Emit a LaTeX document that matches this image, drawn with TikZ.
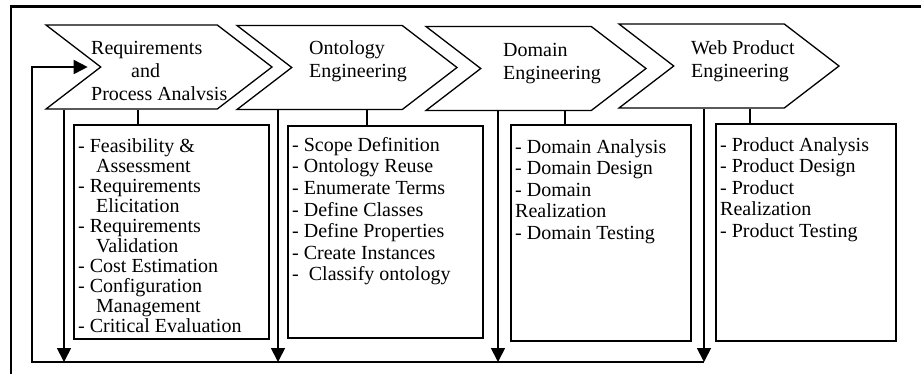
\documentclass[tikz,border=0pt]{standalone}
\usepackage{fontspec}
\setmainfont{Liberation Serif}
\usetikzlibrary{shapes.symbols,arrows.meta,calc}

\begin{document}
\begin{tikzpicture}[x=1pt,y=-1pt]

\tikzstyle{phase}=[signal,draw,line width=1.3pt,signal from=west,signal to=east,signal pointer angle=75,minimum width=220pt,minimum height=84pt,inner sep=0pt]
\tikzstyle{phase text}=[anchor=north west,inner sep=0pt,align=left,font={\fontsize{20}{23}\selectfont}]
\tikzstyle{taskbox}=[draw,line width=1.7pt,anchor=north west,inner sep=0pt]
\tikzstyle{tasks}=[anchor=north west,inner sep=0pt,align=left,font={\fontsize{20}{21.6}\selectfont}]
\tikzstyle{link}=[line width=1.5pt]
\tikzstyle{flow}=[line width=1.8pt,-{Triangle[width=14pt,length=14pt]}]

\useasboundingbox (0,0) rectangle (921,373);

% outer frame
\draw[line width=2.3pt] (11,380) |- (930,6.5);

% phases
\node[phase,minimum width=226pt] (req) at (159,67) {};
\node[phase] (ont) at (347,67.5) {};
\node[phase] (dom) at (536,68.5) {};
\node[phase] (web) at (729,66) {};

\node[phase text] (reqt) at (91,41.5) {Requirements\\\hspace*{40pt}and\\Process Analvsis};
\node[phase text] (ontt) at (309,40.5) {Ontology\\Engineering};
\node[phase text] (domt) at (503,43) {Domain\\Engineering};
\node[phase text] (webt) at (691,40.5) {Web Product\\Engineering};

% activity boxes
\node[taskbox,minimum width=195pt,minimum height=214pt] (box1) at (73,124) {};
\node[taskbox,minimum width=195pt,minimum height=212pt] (box2) at (287,125) {};
\node[taskbox,minimum width=180pt,minimum height=216pt] (box3) at (510,124) {};
\node[taskbox,minimum width=180pt,minimum height=217pt] (box4) at (715,123) {};

\node[tasks,font={\fontsize{20}{20}\selectfont}] (list1) at (78,138) {- Feasibility \&\\\hspace*{18pt}Assessment\\- Requirements\\\hspace*{18pt}Elicitation\\- Requirements\\\hspace*{18pt}Validation\\- Cost Estimation\\- Configuration\\\hspace*{18pt}Management\\- Critical Evaluation};
\node[tasks] (list2) at (292,137) {- Scope Definition\\- Ontology Reuse\\- Enumerate Terms\\- Define Classes\\- Define Properties\\- Create Instances\\- ~Classify ontology};
\node[tasks] (list3) at (515,139) {- Domain Analysis\\- Domain Design\\- Domain\\Realization\\- Domain Testing};
\node[tasks] (list4) at (720,137) {- Product Analysis\\- Product Design\\- Product\\Realization\\- Product Testing};

\draw[link] (req.south -| 138,0) -- (box1.north -| 138,0);
\draw[link] (ont.south -| 367,0) -- (box2.north -| 367,0);
\draw[link] (dom.south -| 565,0) -- (box3.north -| 565,0);
\draw[link] (web.south -| 750,0) -- (box4.north -| 750,0);

% feedback
\coordinate (bus1) at (64,362);
\coordinate (bus2) at (278,362);
\coordinate (bus3) at (498,362);
\coordinate (bus4) at (704,362);
\coordinate (loop) at (32,362);

\draw[flow] (req.south -| bus1) -- (bus1);
\draw[flow] (ont.south -| bus2) -- (bus2);
\draw[flow] (dom.south -| bus3) -- (bus3);
\draw[flow] (web.south -| bus4) -- (bus4);
\draw[flow,shorten >=12pt] (bus4) -- (loop) |- (req.west);

\end{tikzpicture}
\end{document}
